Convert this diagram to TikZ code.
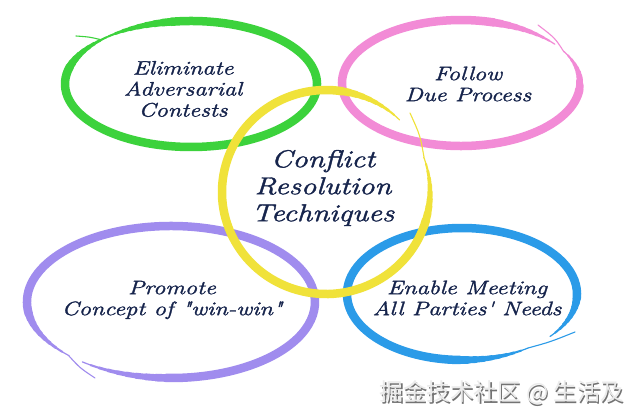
\documentclass[tikz,border=0pt]{standalone}
\usepackage{fontspec}
\setmainfont{Latin Modern Roman}
\newfontfamily\hand{Latin Modern Roman}[FakeStretch=1.25,FakeBold=1.6]
\newfontfamily\cjk{Noto Sans CJK SC}
\definecolor{cgreen}{HTML}{3CD23C}
\definecolor{cpink}{HTML}{F28BD6}
\definecolor{cyellow}{HTML}{F0E23A}
\definecolor{cpurple}{HTML}{A08CEE}
\definecolor{cblue}{HTML}{2B9BE8}
\definecolor{ink}{HTML}{16244C}
\newcommand\bw{8.5}
% #1 cx, #2 cy, #3 rx, #4 ry, #5 start angle, #6 end angle, #7 colour
\newcommand\bring[7]{%
  \pgfmathsetmacro\bsD{#5+36}\pgfmathsetmacro\beA{#6-36}%
  \foreach \i in {0,...,8}{%
    \pgfmathsetmacro\ta{#5+4*\i}\pgfmathsetmacro\tb{#5+4*\i+4}%
    \pgfmathsetmacro\ua{#6-4*\i-4}\pgfmathsetmacro\ub{#6-4*\i}%
    \pgfmathsetmacro\tw{\bw*(\i+1.5)/10.5}%
    \draw[#7,line width=\tw,line cap=round] (#1,#2) ++(\ta:#3 and #4) arc[start angle=\ta,end angle=\tb,x radius=#3,y radius=#4];
    \draw[#7,line width=\tw,line cap=round] (#1,#2) ++(\ua:#3 and #4) arc[start angle=\ua,end angle=\ub,x radius=#3,y radius=#4];
  }%
  \draw[#7,line width=\bw,line cap=round] (#1,#2) ++(\bsD:#3 and #4) arc[start angle=\bsD,end angle=\beA,x radius=#3,y radius=#4];
}
\tikzset{
  x=1pt,y=-1pt,
  label/.style={text=ink,align=center,font=\hand\fontsize{19.5}{21}\selectfont\itshape},
  biglabel/.style={text=ink,align=center,font=\hand\fontsize{24.5}{27}\selectfont\itshape},
  tail/.style={line width=1.1,line cap=round},
}
\begin{document}
\begin{tikzpicture}
\useasboundingbox[fill=white] (0,0) rectangle (640,420);
% rings
\bring{191}{84}{126}{63}{-135}{232}{cgreen}
\draw[cgreen,tail] (102,40) .. controls (90,37) .. (76,36);
\bring{461}{83}{119}{63}{-30}{322}{cpink}
\draw[cpink,tail] (564,52) .. controls (555,38) .. (538,25);
\bring{171}{302}{144}{76}{-225}{128}{cpurple}
\draw[cpurple,tail] (69,356) .. controls (80,368) .. (95,378);
\bring{462}{294}{115}{66}{55}{400}{cblue}
\draw[cblue,tail] (528,348) .. controls (550,342) .. (575,332);
\bring{326}{192}{104}{102}{-20}{315}{cyellow}
\draw[cyellow,tail] (424,157) .. controls (420,135) .. (410,113);
% texts
\node[label] (t1) at (183,89) {Eliminate\\Adversarial\\Contests};
\node[label] (t2) at (468,84) {Follow\\Due Process};
\node[biglabel] (t0) at (323,188) {Conflict\\Resolution\\Techniques};
\node[label] (t3) at (172,300) {Promote\\Concept of \char34 win-win\char34};
\node[label] (t4) at (467,298) {Enable Meeting\\All Parties\char39\ Needs};
% watermark
\node[text=black!55,font=\cjk\fontsize{23.5}{25}\selectfont] (w0) at (503.2,394.2) {掘金技术社区 @ 生活及};
\node[text=black!8,font=\cjk\fontsize{23.5}{25}\selectfont] (w1) at (502,393) {掘金技术社区 @ 生活及};
\end{tikzpicture}
\end{document}
